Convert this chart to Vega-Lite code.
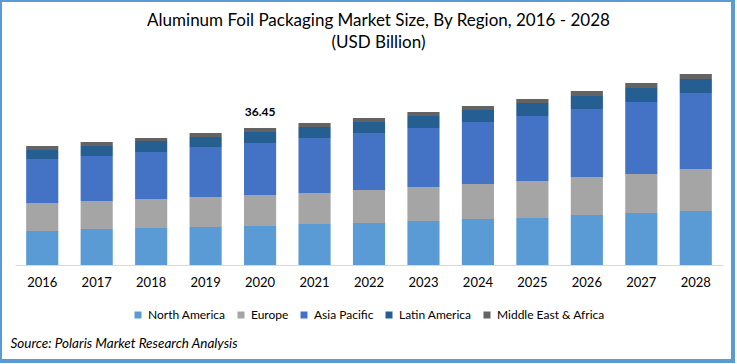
{
  "$schema": "https://vega.github.io/schema/vega-lite/v6.json",
  "width": 733,
  "height": 361,
  "autosize": {"type": "none"},
  "padding": {"left": 0, "top": 0, "right": 4, "bottom": 3},
  "background": "white",
  "title": {
    "text": ["Aluminum Foil Packaging Market Size, By Region, 2016 - 2028", "(USD Billion)"],
    "font": "Lato",
    "fontSize": 17,
    "fontWeight": "normal",
    "color": "#000000",
    "anchor": "middle",
    "frame": "group",
    "offset": -52,
    "dx": 12,
    "lineHeight": 22
  },
  "config": {
    "view": {"stroke": "#5b9bd5", "strokeWidth": 4},
    "font": "Lato"
  },
  "datasets": {
    "market": [
      {"year": "2016", "region": "North America", "value": 9.05},
      {"year": "2016", "region": "Europe", "value": 7.45},
      {"year": "2016", "region": "Asia Pacific", "value": 11.7},
      {"year": "2016", "region": "Latin America", "value": 2.39},
      {"year": "2016", "region": "Middle East & Africa", "value": 1.06},
      {"year": "2017", "region": "North America", "value": 9.58},
      {"year": "2017", "region": "Europe", "value": 7.45},
      {"year": "2017", "region": "Asia Pacific", "value": 11.97},
      {"year": "2017", "region": "Latin America", "value": 2.66},
      {"year": "2017", "region": "Middle East & Africa", "value": 1.06},
      {"year": "2018", "region": "North America", "value": 9.84},
      {"year": "2018", "region": "Europe", "value": 7.71},
      {"year": "2018", "region": "Asia Pacific", "value": 12.5},
      {"year": "2018", "region": "Latin America", "value": 2.93},
      {"year": "2018", "region": "Middle East & Africa", "value": 0.8},
      {"year": "2019", "region": "North America", "value": 10.11},
      {"year": "2019", "region": "Europe", "value": 7.98},
      {"year": "2019", "region": "Asia Pacific", "value": 13.3},
      {"year": "2019", "region": "Latin America", "value": 2.66},
      {"year": "2019", "region": "Middle East & Africa", "value": 1.06},
      {"year": "2020", "region": "North America", "value": 10.37},
      {"year": "2020", "region": "Europe", "value": 8.25},
      {"year": "2020", "region": "Asia Pacific", "value": 13.83},
      {"year": "2020", "region": "Latin America", "value": 2.93},
      {"year": "2020", "region": "Middle East & Africa", "value": 1.07},
      {"year": "2021", "region": "North America", "value": 10.91},
      {"year": "2021", "region": "Europe", "value": 8.25},
      {"year": "2021", "region": "Asia Pacific", "value": 14.63},
      {"year": "2021", "region": "Latin America", "value": 2.93},
      {"year": "2021", "region": "Middle East & Africa", "value": 1.06},
      {"year": "2022", "region": "North America", "value": 11.17},
      {"year": "2022", "region": "Europe", "value": 8.78},
      {"year": "2022", "region": "Asia Pacific", "value": 15.16},
      {"year": "2022", "region": "Latin America", "value": 2.93},
      {"year": "2022", "region": "Middle East & Africa", "value": 1.06},
      {"year": "2023", "region": "North America", "value": 11.7},
      {"year": "2023", "region": "Europe", "value": 9.04},
      {"year": "2023", "region": "Asia Pacific", "value": 15.7},
      {"year": "2023", "region": "Latin America", "value": 3.19},
      {"year": "2023", "region": "Middle East & Africa", "value": 1.06},
      {"year": "2024", "region": "North America", "value": 12.24},
      {"year": "2024", "region": "Europe", "value": 9.31},
      {"year": "2024", "region": "Asia Pacific", "value": 16.49},
      {"year": "2024", "region": "Latin America", "value": 3.19},
      {"year": "2024", "region": "Middle East & Africa", "value": 1.06},
      {"year": "2025", "region": "North America", "value": 12.5},
      {"year": "2025", "region": "Europe", "value": 9.84},
      {"year": "2025", "region": "Asia Pacific", "value": 17.29},
      {"year": "2025", "region": "Latin America", "value": 3.46},
      {"year": "2025", "region": "Middle East & Africa", "value": 1.06},
      {"year": "2026", "region": "North America", "value": 13.3},
      {"year": "2026", "region": "Europe", "value": 10.11},
      {"year": "2026", "region": "Asia Pacific", "value": 18.09},
      {"year": "2026", "region": "Latin America", "value": 3.46},
      {"year": "2026", "region": "Middle East & Africa", "value": 1.33},
      {"year": "2027", "region": "North America", "value": 13.83},
      {"year": "2027", "region": "Europe", "value": 10.37},
      {"year": "2027", "region": "Asia Pacific", "value": 19.15},
      {"year": "2027", "region": "Latin America", "value": 3.72},
      {"year": "2027", "region": "Middle East & Africa", "value": 1.33},
      {"year": "2028", "region": "North America", "value": 14.37},
      {"year": "2028", "region": "Europe", "value": 11.17},
      {"year": "2028", "region": "Asia Pacific", "value": 20.22},
      {"year": "2028", "region": "Latin America", "value": 3.72},
      {"year": "2028", "region": "Middle East & Africa", "value": 1.33}
    ],
    "labels": [
      {"year": "2020", "total": 36.45}
    ]
  },
  "layer": [
    {
      "data": {"name": "market"},
      "transform": [
        {"calculate": "indexof(['North America', 'Europe', 'Asia Pacific', 'Latin America', 'Middle East & Africa'], datum.region)", "as": "stackRank"}
      ],
      "mark": {"type": "bar"},
      "encoding": {
        "x": {
          "field": "year",
          "type": "nominal",
          "scale": {"range": [15, 723], "paddingInner": 0.41, "paddingOuter": 0.205},
          "axis": {
            "orient": "bottom",
            "offset": -96,
            "labelAngle": 0,
            "ticks": false,
            "labelPadding": 11,
            "labelFont": "Lato",
            "labelFontSize": 13,
            "labelColor": "#000000",
            "domainColor": "#d9d9d9",
            "domainWidth": 1,
            "grid": false,
            "title": "Source: Polaris Market Research Analysis",
            "titleFont": "Lato",
            "titleFontSize": 13.5,
            "titleFontStyle": "italic",
            "titleFontWeight": "normal",
            "titleColor": "#000000",
            "titleAnchor": "start",
            "titleAlign": "left",
            "titleBaseline": "middle",
            "titleX": 10,
            "titleY": 78
          }
        },
        "y": {
          "field": "value",
          "type": "quantitative",
          "stack": "zero",
          "scale": {"domain": [0, 53.2], "range": [265, 65], "nice": false, "zero": true},
          "axis": null
        },
        "order": {"field": "stackRank", "type": "quantitative", "sort": "ascending"},
        "color": {
          "field": "region",
          "type": "nominal",
          "sort": ["North America", "Europe", "Asia Pacific", "Latin America", "Middle East & Africa"],
          "scale": {
            "domain": ["North America", "Europe", "Asia Pacific", "Latin America", "Middle East & Africa"],
            "range": ["#5b9bd5", "#a5a5a5", "#4472c4", "#255e91", "#636363"]
          },
          "legend": {
            "orient": "none",
            "legendX": 132,
            "legendY": 309,
            "direction": "horizontal",
            "title": null,
            "symbolType": "square",
            "symbolSize": 49,
            "symbolStrokeWidth": 0,
            "labelFont": "Lato",
            "labelFontSize": 12,
            "labelColor": "#000000",
            "labelOffset": 4,
            "columnPadding": 9
          }
        }
      }
    },
    {
      "data": {"name": "labels"},
      "mark": {"type": "text", "font": "Lato", "fontSize": 12, "fontWeight": "bold", "color": "#000000", "baseline": "middle", "dy": -16},
      "encoding": {
        "x": {"field": "year", "type": "nominal"},
        "y": {"field": "total", "type": "quantitative"},
        "text": {"field": "total", "type": "quantitative", "format": ".2f"}
      }
    }
  ]
}
